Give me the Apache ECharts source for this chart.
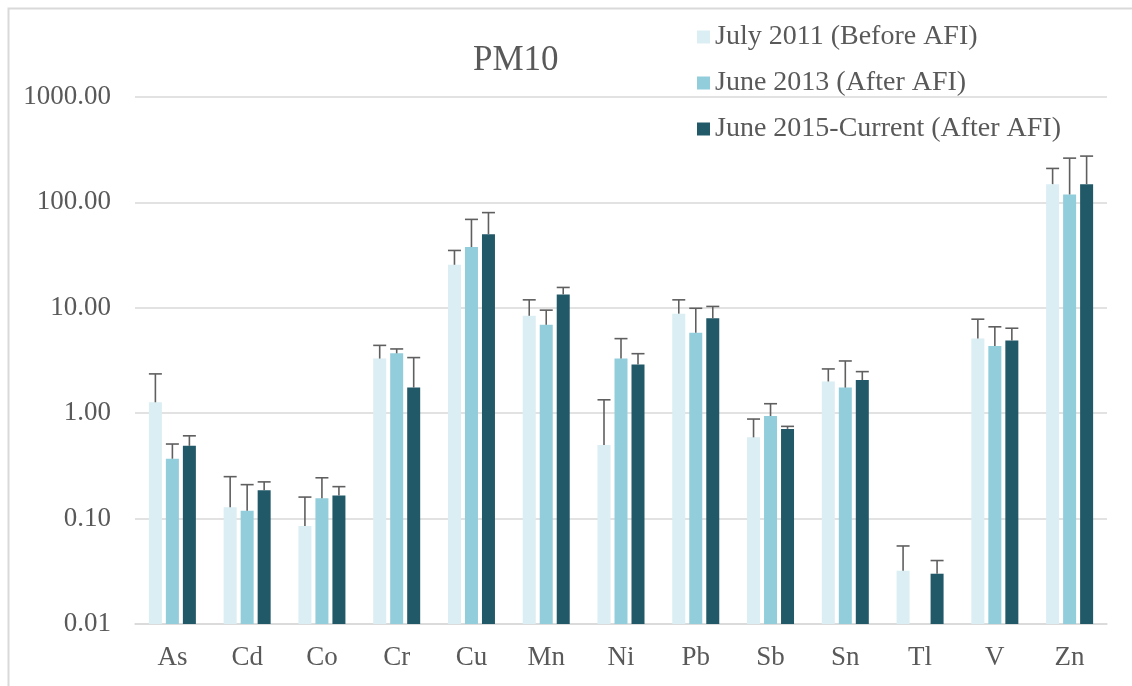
<!DOCTYPE html>
<html>
<head>
<meta charset="utf-8">
<title>PM10</title>
<script src="https://cdn.jsdelivr.net/npm/echarts@6/dist/echarts.min.js"></script>
<style>
    html, body { margin: 0; padding: 0; background: #fff; }
    #chart { width: 1132px; height: 686px; }
</style>
</head>
<body>
<div id="chart"></div>
<script>
// elements on the x axis
var categories = ["As", "Cd", "Co", "Cr", "Cu", "Mn", "Ni", "Pb", "Sb", "Sn", "Tl", "V", "Zn"];
var seriesNames = ["July 2011 (Before AFI)", "June 2013 (After AFI)", "June 2015-Current (After AFI)"];
var yTicks = [0.01, 0.1, 1, 10, 100, 1000];

// bar heights
var july2011 = [1.27, 0.128, 0.085, 3.3, 25.6, 8.4, 0.50, 8.8, 0.59, 2.0, 0.032, 5.1, 149];
var june2013 = [0.37, 0.119, 0.156, 3.7, 37.7, 6.9, 3.3, 5.8, 0.94, 1.75, null, 4.35, 119];
var june2015 = [0.49, 0.186, 0.166, 1.75, 50, 13.4, 2.9, 7.95, 0.71, 2.06, 0.030, 4.9, 149];

// top of the error bar for each bar
var july2011Hi = [2.36, 0.25, 0.16, 4.4, 35, 11.9, 1.34, 11.9, 0.88, 2.63, 0.055, 7.8, 210];
var june2013Hi = [0.51, 0.21, 0.244, 4.07, 69, 9.5, 5.1, 9.9, 1.23, 3.13, null, 6.6, 263];
var june2015Hi = [0.61, 0.223, 0.201, 3.37, 80, 15.6, 3.67, 10.3, 0.75, 2.48, 0.040, 6.4, 275];

var colors = ["#DAEEF3", "#92CDDC", "#215968"];
var textColor = "#595959";
var font = "'Liberation Serif', 'Times New Roman', serif";

var barW = 13;
var barGapPx = 4;

var chart = echarts.init(document.getElementById('chart'));

// log axis bars in echarts grow from 1, so the bars are drawn with custom series from the axis min
function barSeries(idx, values, highs) {
    var data = [];
    for (var i = 0; i < categories.length; i++) {
        if (values[i] == null) continue;
        data.push([i, values[i], highs[i]]);
    }
    return {
        type: 'custom',
        name: seriesNames[idx],
        data: data,
        itemStyle: { color: colors[idx] },
        encode: { x: 0, y: [1, 2] },
        z: 2,
        renderItem: function (params, api) {
            var base = api.coord([api.value(0), yTicks[0]]);
            var top = api.coord([api.value(0), api.value(1)]);
            var hi = api.coord([api.value(0), api.value(2)]);
            var dx = (idx - 1) * (barW + barGapPx); // offset of the bar inside its group
            var x = base[0] + dx;
            var cap = barW / 2;
            var st = { stroke: '#5f5f5f', lineWidth: 1.6 };
            return {
                type: 'group',
                children: [
                    {
                        type: 'rect',
                        shape: { x: x - barW / 2, y: top[1], width: barW, height: base[1] - top[1] },
                        style: { fill: colors[idx] }
                    },
                    { type: 'line', shape: { x1: x, y1: top[1], x2: x, y2: hi[1] }, style: st },
                    { type: 'line', shape: { x1: x - cap, y1: hi[1], x2: x + cap, y2: hi[1] }, style: st }
                ]
            };
        }
    };
}

chart.setOption({
    backgroundColor: '#fff',
    animation: false,
    title: {
        text: 'PM10',
        left: 468,
        top: 38,
        textStyle: { fontFamily: font, fontSize: 35, fontWeight: 'normal', color: textColor }
    },
    legend: {
        orient: 'vertical',
        left: 692,
        top: 17,
        itemWidth: 13,
        itemHeight: 13,
        itemGap: 16,
        icon: 'rect',
        data: seriesNames,
        textStyle: { fontFamily: font, fontSize: 28, color: textColor, lineHeight: 30 }
    },
    graphic: [{
        type: 'rect',
        left: 6,
        top: 6,
        shape: { width: 1300, height: 900 },
        style: { fill: 'none', stroke: '#d9d9d9', lineWidth: 2 },
        silent: true,
        z: -1
    }],
    grid: { left: 135, right: 25, top: 97, bottom: 62 },
    xAxis: {
        type: 'category',
        data: categories,
        axisLine: { lineStyle: { color: '#d9d9d9', width: 1.5 } },
        axisTick: { show: false },
        axisLabel: { fontFamily: font, fontSize: 27, color: textColor, margin: 20 }
    },
    yAxis: {
        type: 'log',
        logBase: 10,
        min: yTicks[0],
        max: yTicks[yTicks.length - 1],
        splitNumber: yTicks.length - 1,
        axisLine: { show: false },
        axisTick: { show: false },
        splitLine: { lineStyle: { color: '#d9d9d9', width: 1.5 } },
        axisLabel: {
            fontFamily: font, fontSize: 27, color: textColor, margin: 24,
            formatter: function (v) { return Number(v).toFixed(2); }
        }
    },
    series: [
        barSeries(0, july2011, july2011Hi),
        barSeries(1, june2013, june2013Hi),
        barSeries(2, june2015, june2015Hi)
    ]
});
</script>
</body>
</html>
